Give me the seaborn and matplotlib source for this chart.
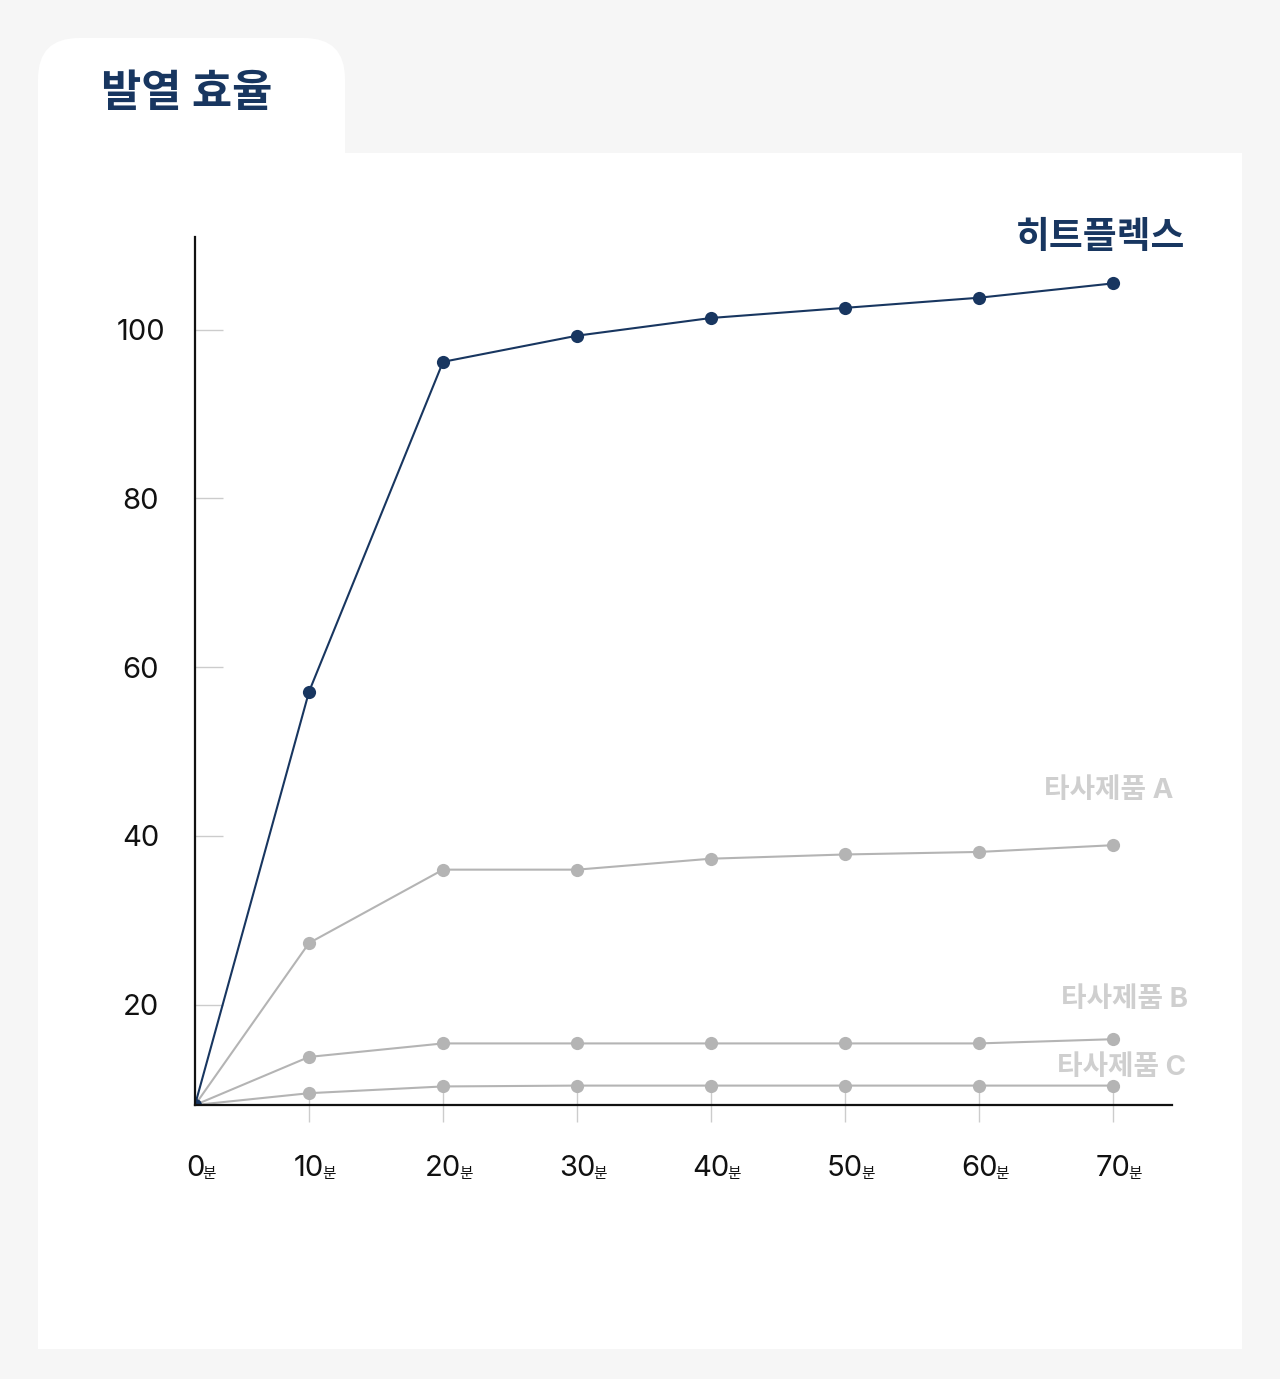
import matplotlib
matplotlib.use("Agg")
import matplotlib.pyplot as plt
import numpy as np
import pandas as pd
import seaborn as sns
from matplotlib.patches import FancyBboxPatch, Rectangle

# data
minutes = [0, 10, 20, 30, 40, 50, 60, 70]
heatflex = [8.1, 57.1, 96.2, 99.3, 101.4, 102.6, 103.8, 105.5]
brand_a = [8.1, 27.3, 36.0, 36.0, 37.3, 37.8, 38.1, 38.9]
brand_b = [8.1, 13.8, 15.4, 15.4, 15.4, 15.4, 15.4, 15.9]
brand_c = [8.1, 9.5, 10.3, 10.4, 10.4, 10.4, 10.4, 10.4]
series_names = ["타사제품 C", "타사제품 B", "타사제품 A", "히트플렉스"]
y_ticks = [20, 40, 60, 80, 100]
x_ticks = [10, 20, 30, 40, 50, 60, 70]
title = "발열 효율"

NAVY = "#183660"
GRAY = "#b4b4b4"
LABEL_GRAY = "#cfcfcf"
FONTS = ["Inter", "Noto Sans CJK KR", "DejaVu Sans"]

df = pd.DataFrame({
    "minute": minutes * 4,
    "value": brand_c + brand_b + brand_a + heatflex,
    "product": sum([[n] * len(minutes) for n in series_names], []),
})

sns.set_theme(style="white")
plt.rcParams["font.family"] = FONTS

fig = plt.figure(figsize=(12.8, 13.79), dpi=100)
fig.patch.set_facecolor("#f6f6f6")

W, H = 1280, 1379
# white panel + rounded tab (behind the axes)
fig.patches.append(Rectangle((38 / W, 1 - 1349 / H), (1242 - 38) / W, (1349 - 153) / H,
                             transform=fig.transFigure, facecolor="white", edgecolor="none", zorder=-2))
fig.patches.append(FancyBboxPatch((38 / W, 1 - 260 / H), (345 - 38) / W, (260 - 38) / H,
                                  boxstyle="round,pad=0,rounding_size=0.032",
                                  mutation_aspect=W / H,
                                  transform=fig.transFigure, facecolor="white", edgecolor="none", zorder=-2))
fig.text(101 / W, 1 - 95 / H, title, fontsize=31.5, fontweight="bold", color=NAVY,
         ha="left", va="center", family=FONTS)

ax = fig.add_axes([195 / W, 1 - 1105 / H, (1172 - 195) / W, (1105 - 237) / H])
ax.set_facecolor("none")

# the first 10-minute step is drawn a bit narrower than the others in the original
FIRST_STEP = 0.851


def x_fwd(x):
    x = np.asarray(x, dtype=float)
    return np.where(x < 10, x * FIRST_STEP, x - 10 * (1 - FIRST_STEP))


def x_inv(u):
    u = np.asarray(u, dtype=float)
    return np.where(u < 10 * FIRST_STEP, u / FIRST_STEP, u + 10 * (1 - FIRST_STEP))


ax.set_xscale("function", functions=(x_fwd, x_inv))

palette = {"히트플렉스": NAVY, "타사제품 A": GRAY, "타사제품 B": GRAY, "타사제품 C": GRAY}
sns.lineplot(data=df, x="minute", y="value", hue="product", hue_order=series_names,
             palette=palette, marker="o", markersize=9.5, markeredgewidth=0,
             linewidth=1.5, legend=False, ax=ax, zorder=3)

ax.set_xlim(0, 74.4)
ax.set_ylim(8.1, 111)
ax.set_xlabel("")
ax.set_ylabel("")

for side in ["top", "right"]:
    ax.spines[side].set_visible(False)
for side in ["left", "bottom"]:
    ax.spines[side].set_color("#111111")
    ax.spines[side].set_linewidth(1.6)
    ax.spines[side].set_zorder(4)

ax.set_yticks(y_ticks)
ax.set_yticklabels([str(v) for v in y_ticks], ha="center")
ax.tick_params(axis="y", direction="in", length=20, width=1, color="#cccccc",
               labelsize=21, labelcolor="#111111", pad=39, left=True)

ax.set_xticks(x_ticks)
ax.set_xticklabels([])
ax.xaxis.set_minor_locator(matplotlib.ticker.NullLocator())
ax.tick_params(axis="x", direction="inout", length=24, width=1, color="#cccccc", bottom=True)

# x tick labels: big number + small "분"
for m in [0] + x_ticks:
    t = ax.annotate(str(m), xy=(m, 0), xycoords=("data", "axes fraction"),
                    xytext=(0, -46), textcoords="offset points", ha="center", va="center",
                    fontsize=21, color="#111111", family=FONTS)
    ax.annotate("분", xy=(1, 0.06), xycoords=t, xytext=(-1.5, 0), textcoords="offset points",
                ha="left", va="bottom", fontsize=10.5, color="#111111", family=FONTS)

# series labels at the right
ax.annotate("히트플렉스", xy=(1185 / W, 1 - 238 / H), xycoords="figure fraction",
            ha="right", va="center", fontsize=26.5, fontweight="bold", color=NAVY, family=FONTS)
ax.annotate("타사제품 A", xy=(1173 / W, 1 - 791 / H), xycoords="figure fraction",
            ha="right", va="center", fontsize=20, fontweight="bold", color=LABEL_GRAY, family=FONTS)
ax.annotate("타사제품 B", xy=(1188 / W, 1 - 1000 / H), xycoords="figure fraction",
            ha="right", va="center", fontsize=20, fontweight="bold", color=LABEL_GRAY, family=FONTS)
ax.annotate("타사제품 C", xy=(1186 / W, 1 - 1068 / H), xycoords="figure fraction",
            ha="right", va="center", fontsize=20, fontweight="bold", color=LABEL_GRAY, family=FONTS)

fig.savefig("out.png", dpi=100, facecolor=fig.get_facecolor())
